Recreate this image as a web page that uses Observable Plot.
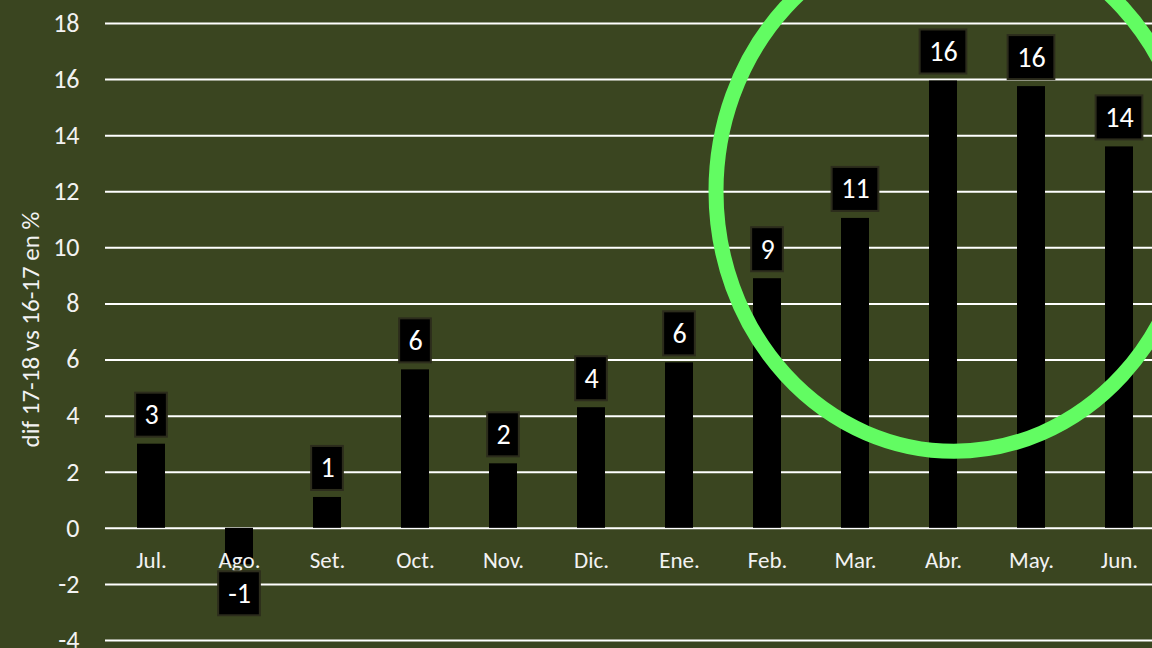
<!DOCTYPE html>
<html><head><meta charset="utf-8">
<script src="https://cdn.jsdelivr.net/npm/d3@7"></script>
<script src="https://cdn.jsdelivr.net/npm/@observablehq/plot@0.6"></script>
<style>
html,body{margin:0;padding:0;background:#3a4520;overflow:hidden;width:1152px;height:648px}
#chart svg{display:block}
</style>
</head><body><div id="chart"></div>
<script>
const months = ["Jul.","Ago.","Set.","Oct.","Nov.","Dic.","Ene.","Feb.","Mar.","Abr.","May.","Jun."];
const values = [3.0, -1.3, 1.1, 5.65, 2.3, 4.3, 5.9, 8.9, 11.05, 15.95, 15.75, 13.6];
const labels = ["3","-1","1","6","2","4","6","9","11","16","16","14"];
const yTicks = [-4,-2,0,2,4,6,8,10,12,14,16,18];
const yTitle = "dif 17-18 vs 16-17 en %";
const highlight = [{month: "Abr.", value: 12}];

const data = months.map((m, i) => ({month: m, value: values[i], label: labels[i]}));
const FONT = "Carlito, Calibri, Lato, sans-serif";
const TXT = "#f2f2f2";

function insetFor(label) {
  const n = label.length;
  const w = 17 + n * 15 - (label.startsWith("-") ? 5 : 0);
  return -(w - 28.3) / 2;
}
const groups = d3.groups(data, d => (d.value >= 0 ? "p" : "n") + d.label.length + (d.label.startsWith("-") ? "m" : ""));

const boxMarks = groups.map(([key, rows]) => {
  const positive = rows[0].value >= 0;
  const ins = insetFor(rows[0].label);
  return Plot.rect(rows, {
    x: "month", y1: "value", y2: "value",
    insetTop: positive ? -51 : 7, insetBottom: positive ? 7 : -51,
    insetLeft: ins, insetRight: ins,
    fill: "#000", stroke: "#2c2c1c", strokeWidth: 2
  });
});

const chart = Plot.plot({
  width: 1152, height: 648,
  marginLeft: 105, marginRight: 0, marginTop: 0, marginBottom: 0,
  style: {background: "#3a4520", fontFamily: FONT, color: TXT, overflow: "hidden"},
  x: {domain: months, range: [105, 1165], paddingInner: 0.68, paddingOuter: 0.34, axis: null},
  y: {domain: [-4, 18], range: [640, 23], axis: null},
  marks: [
    Plot.ruleY(yTicks, {stroke: "#ffffff", strokeWidth: 2}),
    Plot.text(yTicks, {y: d => d, text: d => String(d), frameAnchor: "left", dx: -26, textAnchor: "end", fontSize: 26, fill: TXT}),
    Plot.barY(data, {x: "month", y: "value", fill: "#000"}),
    Plot.text(months, {x: d => d, y: () => 0, dy: 32, fontSize: 23, fill: TXT}),
    ...boxMarks,
    Plot.text(data.filter(d => d.value >= 0), {x: "month", y: "value", text: "label", dy: -29, fontSize: 28, fill: "#fff"}),
    Plot.text(data.filter(d => d.value < 0), {x: "month", y: "value", text: "label", dy: 29, fontSize: 28, fill: "#fff"}),
    Plot.text([yTitle], {frameAnchor: "left", rotate: -90, dx: -75, dy: 5, fontSize: 25, fill: TXT, textAnchor: "middle"}),
    Plot.dot(highlight, {
      x: "month", y: "value",
      render: (index, scales, values, dims) => {
        const g = d3.create("svg:g");
        const bw = scales.x.bandwidth ? scales.x.bandwidth() / 2 : 0;
        for (const i of index) {
          const d = highlight[i];
          g.append("ellipse")
            .attr("cx", scales.x(d.month) + bw + 11)
            .attr("cy", scales.y(d.value))
            .attr("rx", 238).attr("ry", 260)
            .attr("fill", "none").attr("stroke", "#62fc62").attr("stroke-width", 15);
        }
        return g.node();
      }
    })
  ]
});
document.getElementById("chart").append(chart);
</script>
</body></html>
